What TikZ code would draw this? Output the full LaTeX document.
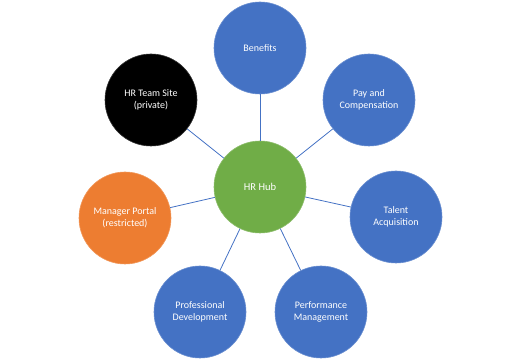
\documentclass[tikz,border=0pt]{standalone}
\usepackage{fontspec}
\setmainfont{Carlito}
\begin{document}
\begin{tikzpicture}[x=1pt,y=1pt,
  bubble/.style={circle,minimum size=92pt,inner sep=0pt,text=white,font=\fontsize{10}{12}\selectfont,align=center,draw=#1!80!white,line width=0.6pt,fill=#1},
  link/.style={draw=hrblue,line width=0.8pt}]
\definecolor{hrblue}{HTML}{4472C4}
\definecolor{hrgreen}{HTML}{70AD47}
\definecolor{hrorange}{HTML}{ED7D31}
\definecolor{hrblack}{HTML}{000000}
\useasboundingbox (0,0) rectangle (520,359);
\node[bubble=hrgreen,font=\fontsize{10.5}{12}\selectfont] (hub) at (260,172) {HR Hub};
\node[bubble=hrblue] (ben) at (260,311) {Benefits};
\node[bubble=hrblue] (pay) at (369,259) {Pay and\\Compensation};
\node[bubble=hrblue] (tal) at (396,142) {Talent\\Acquisition};
\node[bubble=hrblue] (perf) at (321,47) {Performance\\Management};
\node[bubble=hrblue] (prof) at (200,47) {Professional\\Development};
\node[bubble=hrorange] (mgr) at (125,141) {Manager Portal\\(restricted)};
\node[bubble=hrblack] (team) at (151,259) {HR Team Site\\(private)};
\foreach \n in {ben,pay,tal,perf,prof,mgr,team}
  \draw[link] (hub) -- (\n);
\end{tikzpicture}
\end{document}
